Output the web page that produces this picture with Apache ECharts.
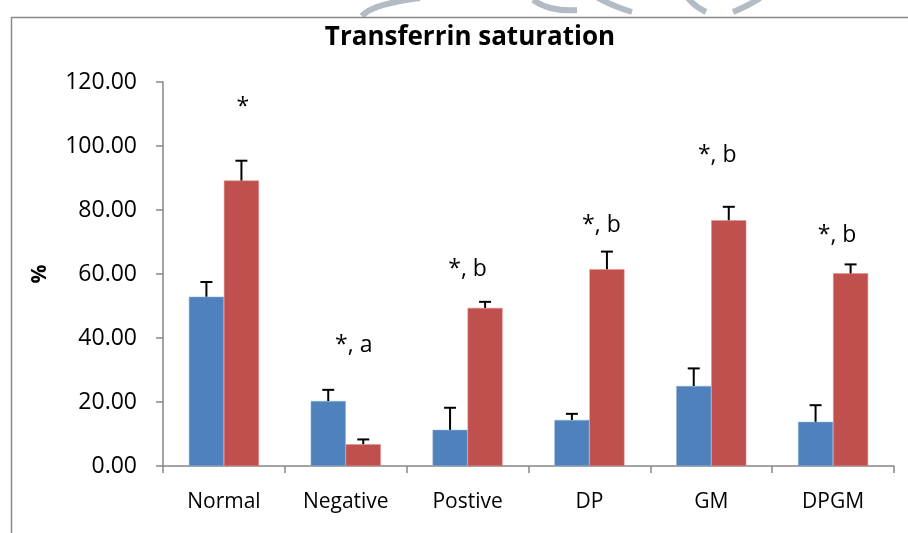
<!DOCTYPE html>
<html>
<head>
<meta charset="utf-8">
<script src="https://cdn.jsdelivr.net/npm/echarts@6/dist/echarts.min.js"></script>
<style>
  html, body { margin: 0; padding: 0; background: #fff; }
  #chart { width: 908px; height: 533px; }
</style>
</head>
<body>
<div id="chart"></div>
<script>
// Groups on the x axis
const categories = ['Normal', 'Negative', 'Postive', 'DP', 'GM', 'DPGM'];

// First (blue) series: mean and upper error
const blueMean = [52.9, 20.3, 11.3, 14.4, 25.0, 13.8];
const blueErr  = [4.6, 3.5, 6.9, 1.9, 5.5, 5.2];

// Second (red) series: mean and upper error
const redMean = [89.2, 6.8, 49.4, 61.5, 76.8, 60.2];
const redErr  = [6.2, 1.5, 1.9, 5.5, 4.2, 2.8];

// Significance marks above each group and the height (in %) they sit at
const sigText   = ['*', '*, a', '*, b', '*, b', '*, b', '*, b'];
const sigHeight = [112.0, 37.8, 61.3, 75.3, 97.2, 71.9];
const sigShift  = [19, 8, 0, 12, 6, 4];

// Y axis range
const yMin = 0, yMax = 120, yStep = 20;

const FONT = 'Open Sans';
const GROUP_FILL = 0.575; // share of a category taken by the pair of bars

function errorBars(means, errs, side) {
  return {
    type: 'custom',
    z: 5,
    data: means.map((m, i) => [i, m, m + errs[i]]),
    renderItem: function (params, api) {
      const i = api.value(0);
      const base = api.coord([i, api.value(1)]);
      const top = api.coord([i, api.value(2)]);
      const band = api.size([1, 0])[0];
      const x = base[0] + side * band * GROUP_FILL / 4;
      const cap = 6;
      const style = { stroke: '#000', lineWidth: 2 };
      return {
        type: 'group',
        children: [
          { type: 'line', shape: { x1: x, y1: base[1], x2: x, y2: top[1] }, style: style },
          { type: 'line', shape: { x1: x - cap, y1: top[1], x2: x + cap, y2: top[1] }, style: style }
        ]
      };
    }
  };
}

// Faint ornament strokes along the top edge of the page
const ornament = { stroke: '#b3bcc5', lineWidth: 6, fill: null };
const ornamentShapes = [
  { x1: 420, y1: -2, cpx1: 372, cpy1: 4, x2: 362, y2: 16 },
  { x1: 533, y1: 0, cpx1: 550, cpy1: 12, x2: 577, y2: 10 },
  { x1: 598, y1: -2, cpx1: 612, cpy1: 6, x2: 632, y2: 12 },
  { x1: 688, y1: -2, cpx1: 694, cpy1: 6, x2: 706, y2: 12 },
  { x1: 760, y1: -2, cpx1: 748, cpy1: 6, x2: 733, y2: 12 }
];

const chart = echarts.init(document.getElementById('chart'), null, { renderer: 'canvas' });

chart.setOption({
  backgroundColor: '#ffffff',
  animation: false,
  title: {
    text: 'Transferrin saturation',
    left: 465,
    textAlign: 'center',
    top: 20,
    textStyle: { fontFamily: FONT, fontWeight: 'bold', fontSize: 26, color: '#000' }
  },
  graphic: ornamentShapes.map(s => ({
    type: 'bezierCurve', shape: s, style: ornament, silent: true
  })).concat([
    { type: 'line', shape: { x1: 11, y1: 17.5, x2: 908, y2: 17.5 }, style: { stroke: '#8a8a8a', lineWidth: 1.5 } },
    { type: 'line', shape: { x1: 11.5, y1: 17, x2: 11.5, y2: 533 }, style: { stroke: '#8a8a8a', lineWidth: 1.5 } }
  ]),
  grid: { left: 163, right: 14, top: 82, bottom: 67 },
  xAxis: {
    type: 'category',
    data: categories,
    boundaryGap: true,
    axisLine: { lineStyle: { color: '#868686', width: 1.5 } },
    axisTick: { show: true, length: 7, lineStyle: { color: '#868686', width: 1.5 } },
    axisLabel: { margin: 26, fontFamily: FONT, fontSize: 21, color: '#000' }
  },
  yAxis: {
    type: 'value',
    min: yMin,
    max: yMax,
    interval: yStep,
    name: '%',
    nameLocation: 'middle',
    nameRotate: 90,
    nameGap: 112,
    nameTextStyle: { fontFamily: FONT, fontWeight: 'bold', fontSize: 21, color: '#000' },
    axisLine: { show: true, lineStyle: { color: '#868686', width: 1.5 } },
    axisTick: { show: true, length: 7, lineStyle: { color: '#868686', width: 1.5 } },
    splitLine: { show: false },
    axisLabel: {
      margin: 26,
      fontFamily: FONT,
      fontSize: 23,
      color: '#000',
      formatter: v => v.toFixed(2)
    }
  },
  series: [
    {
      type: 'bar',
      data: blueMean,
      barGap: '0%',
      barCategoryGap: ((1 - GROUP_FILL) * 100) + '%',
      itemStyle: { color: '#4F81BD', borderColor: '#8FB0D8', borderWidth: 0.5 }
    },
    {
      type: 'bar',
      data: redMean,
      barGap: '0%',
      barCategoryGap: ((1 - GROUP_FILL) * 100) + '%',
      itemStyle: { color: '#C0504D', borderColor: '#E08A88', borderWidth: 0.5 }
    },
    errorBars(blueMean, blueErr, -1),
    errorBars(redMean, redErr, 1),
    {
      type: 'scatter',
      symbolSize: 0,
      z: 6,
      itemStyle: { color: '#000', opacity: 1 },
      data: sigHeight.map((h, i) => ({
        value: [i, h],
        label: { offset: [sigShift[i], 0] }
      })),
      label: {
        show: true,
        position: 'inside',
        fontFamily: FONT,
        fontSize: 23,
        color: '#000',
        textBorderWidth: 0,
        formatter: p => sigText[p.dataIndex]
      }
    }
  ]
});
</script>
</body>
</html>
